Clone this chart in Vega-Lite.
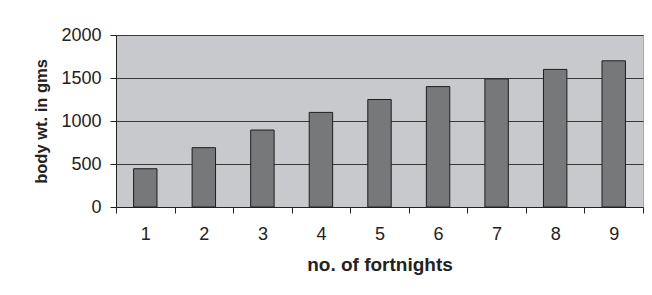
{
  "$schema": "https://vega.github.io/schema/vega-lite/v6.json",
  "width": 527,
  "height": 172,
  "autosize": {"type": "none"},
  "padding": {"left": 116, "top": 35, "right": 9, "bottom": 88},
  "background": "white",
  "config": {
    "font": "Liberation Sans",
    "view": {"fill": "#c8c9cc", "stroke": "#a8a8a8", "strokeWidth": 1}
  },
  "data": {
    "values": [
      {"fortnight": "1", "weight": 445},
      {"fortnight": "2", "weight": 690},
      {"fortnight": "3", "weight": 895},
      {"fortnight": "4", "weight": 1100},
      {"fortnight": "5", "weight": 1250},
      {"fortnight": "6", "weight": 1400},
      {"fortnight": "7", "weight": 1490},
      {"fortnight": "8", "weight": 1600},
      {"fortnight": "9", "weight": 1700}
    ]
  },
  "mark": {"type": "bar", "width": {"band": 0.4}, "fill": "#77787a", "stroke": "#1e1e1e", "strokeWidth": 1},
  "encoding": {
    "x": {
      "field": "fortnight",
      "type": "ordinal",
      "scale": {"paddingInner": 0, "paddingOuter": 0},
      "axis": {
        "title": "no. of fortnights",
        "titleFontSize": 19,
        "titleFontWeight": "bold",
        "titleColor": "#222",
        "titlePadding": 12,
        "labelAngle": 0,
        "labelFontSize": 18,
        "labelColor": "#222",
        "labelPadding": 12,
        "tickBand": "extent",
        "tickSize": 6,
        "tickColor": "#222",
        "domainColor": "#222",
        "grid": false
      }
    },
    "y": {
      "field": "weight",
      "type": "quantitative",
      "scale": {"domain": [0, 2000], "nice": false},
      "axis": {
        "title": "body wt. in gms",
        "titleFontSize": 16.5,
        "titleFontWeight": "bold",
        "titleColor": "#222",
        "titlePadding": 11,
        "values": [0, 500, 1000, 1500, 2000],
        "format": "d",
        "labelFontSize": 18,
        "labelColor": "#222",
        "labelPadding": 9,
        "tickSize": 6,
        "tickColor": "#222",
        "domainColor": "#222",
        "grid": true,
        "gridColor": "#3a3a3a",
        "gridWidth": 1,
        "gridOpacity": 1
      }
    }
  }
}
